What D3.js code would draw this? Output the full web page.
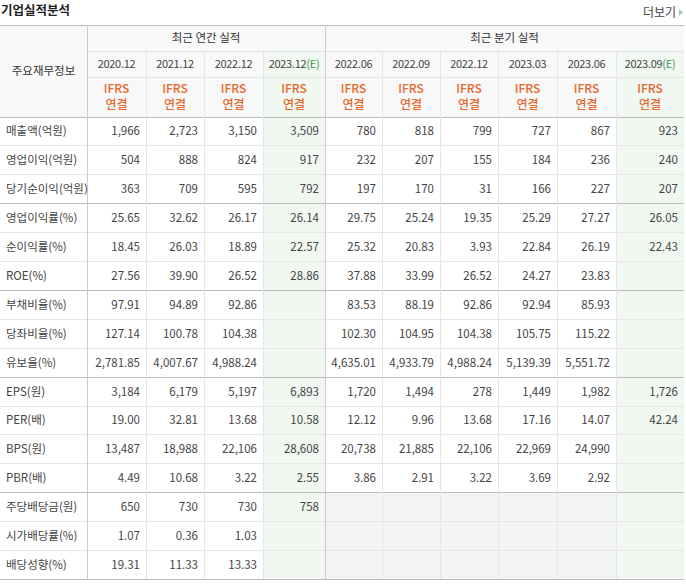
<!DOCTYPE html>
<html><head><meta charset="utf-8">
<script src="https://cdn.jsdelivr.net/npm/d3@7"></script>
<style>body{margin:0;background:#fff}text{font-family:"Noto Sans CJK KR","Noto Sans",sans-serif}</style>
</head><body><svg id="c" width="686" height="588"></svg>
<script>
const periods=["2020.12","2021.12","2022.12","2023.12","2022.06","2022.09","2022.12","2023.03","2023.06","2023.09"];
const estimated=[false,false,false,true,false,false,false,false,false,true];
const rowLabels=["매출액(억원)","영업이익(억원)","당기순이익(억원)","영업이익률(%)","순이익률(%)","ROE(%)","부채비율(%)","당좌비율(%)","유보율(%)","EPS(원)","PER(배)","BPS(원)","PBR(배)","주당배당금(원)","시가배당률(%)","배당성향(%)"];
const values=[
["1,966","2,723","3,150","3,509","780","818","799","727","867","923"],
["504","888","824","917","232","207","155","184","236","240"],
["363","709","595","792","197","170","31","166","227","207"],
["25.65","32.62","26.17","26.14","29.75","25.24","19.35","25.29","27.27","26.05"],
["18.45","26.03","18.89","22.57","25.32","20.83","3.93","22.84","26.19","22.43"],
["27.56","39.90","26.52","28.86","37.88","33.99","26.52","24.27","23.83",""],
["97.91","94.89","92.86","","83.53","88.19","92.86","92.94","85.93",""],
["127.14","100.78","104.38","","102.30","104.95","104.38","105.75","115.22",""],
["2,781.85","4,007.67","4,988.24","","4,635.01","4,933.79","4,988.24","5,139.39","5,551.72",""],
["3,184","6,179","5,197","6,893","1,720","1,494","278","1,449","1,982","1,726"],
["19.00","32.81","13.68","10.58","12.12","9.96","13.68","17.16","14.07","42.24"],
["13,487","18,988","22,106","28,608","20,738","21,885","22,106","22,969","24,990",""],
["4.49","10.68","3.22","2.55","3.86","2.91","3.22","3.69","2.92",""],
["650","730","730","758","","","","","",""],
["1.07","0.36","1.03","","","","","","",""],
["19.31","11.33","13.33","","","","","","",""]];
const groupDividers=[3,6,9,13];
const greyRows=[13,14,15];

const svg=d3.select("#c");
const bounds=[87,146,204,263,325,382,440,498,557,616,684];
const T0=25,h1=26,h2=26,h3=40,rh=28.9;
const dataTop=T0+h1+h2+h3;
const y=d3.scaleLinear().domain([0,16]).range([dataTop,dataTop+16*rh]);
const bottom=y(16);
const txt="#333";

svg.append("text").attr("x",1).attr("y",15).attr("font-size",12.5).attr("font-weight","bold").attr("fill","#222").text("기업실적분석");
svg.append("text").attr("x",676).attr("y",17).attr("text-anchor","end").attr("font-size",12).attr("fill","#444").text("더보기");
svg.append("path").attr("d","M679,9 L683,12.5 L679,16Z").attr("fill","#bbb");

svg.append("rect").attr("x",0).attr("y",T0).attr("width",684).attr("height",h1+h2+h3).attr("fill","#f8f8f8");
periods.forEach((p,i)=>{
  if(estimated[i]) svg.append("rect").attr("x",bounds[i]).attr("y",T0+h1).attr("width",bounds[i+1]-bounds[i]).attr("height",bottom-T0-h1).attr("fill","#f1f8f1");
});
greyRows.forEach(r=>svg.append("rect").attr("x",bounds[4]).attr("y",y(r)).attr("width",bounds[9]-bounds[4]).attr("height",rh).attr("fill","#f4f4f4"));

const line=(x1,y1,x2,y2,c)=>svg.append("line").attr("x1",x1).attr("y1",y1).attr("x2",x2).attr("y2",y2).attr("stroke",c).attr("stroke-width",1).attr("shape-rendering","crispEdges");
line(0,T0,684,T0,"#bbb");
line(87,T0+h1,684,T0+h1,"#e4e4e4");
line(87,T0+h1+h2,684,T0+h1+h2,"#e4e4e4");
line(0,dataTop,684,dataTop,"#bbb");
for(let r=1;r<16;r++) line(0,y(r),684,y(r),groupDividers.includes(r)?"#bbb":"#e6e6e6");
line(0,bottom,684,bottom,"#bbb");
line(87,T0,87,bottom,"#ccc");
line(325,T0,325,bottom,"#ccc");
bounds.forEach((b,i)=>{ if(i>0&&i<10&&b!==325) line(b,T0+h1,b,bottom,"#e6e6e6"); });

svg.append("text").attr("x",43.5).attr("y",T0+(h1+h2+h3)/2+4).attr("text-anchor","middle").attr("font-size",11.5).attr("fill",txt).text("주요재무정보");
svg.append("text").attr("x",(87+325)/2).attr("y",T0+17).attr("text-anchor","middle").attr("font-size",11.5).attr("fill",txt).text("최근 연간 실적");
svg.append("text").attr("x",(325+684)/2).attr("y",T0+17).attr("text-anchor","middle").attr("font-size",11.5).attr("fill",txt).text("최근 분기 실적");
periods.forEach((p,i)=>{
  const cx=(bounds[i]+bounds[i+1])/2;
  const t=svg.append("text").attr("x",cx).attr("y",T0+h1+17).attr("text-anchor","middle").attr("font-size",11).attr("fill","#444").attr("letter-spacing",-0.3).text(p);
  if(estimated[i]) t.append("tspan").attr("fill","#3a9a4a").text("(E)");
  svg.append("text").attr("x",cx).attr("y",T0+h1+h2+16).attr("text-anchor","middle").attr("font-size",12).attr("fill","#e8672c").attr("font-weight",500).text("IFRS");
  svg.append("text").attr("x",cx).attr("y",T0+h1+h2+32).attr("text-anchor","middle").attr("font-size",12).attr("fill","#e8672c").attr("font-weight",500).text("연결");
});

rowLabels.forEach((l,r)=>{
  svg.append("text").attr("x",6).attr("y",y(r)+rh/2+4).attr("font-size",11.5).attr("fill","#444").text(l);
  values[r].forEach((v,i)=>{
    svg.append("text").attr("x",bounds[i+1]-6).attr("y",y(r)+rh/2+4).attr("text-anchor","end").attr("font-size",11.5).attr("fill","#444").text(v);
  });
});
</script></body></html>
